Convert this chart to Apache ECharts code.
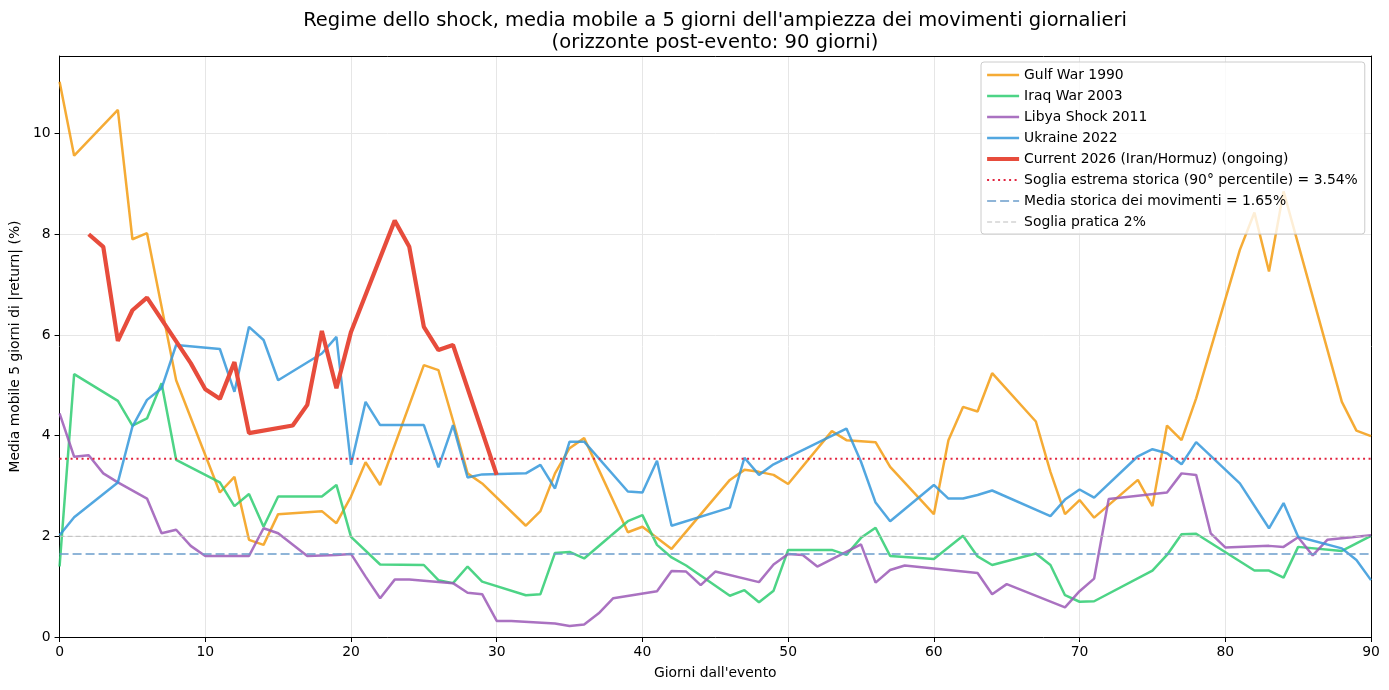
<!DOCTYPE html>
<html>
<head>
<meta charset="utf-8">
<script src="https://cdn.jsdelivr.net/npm/echarts@6/dist/echarts.min.js"></script>
<style>
html,body{margin:0;padding:0;background:#fff;}
#chart{width:1389px;height:690px;}
</style>
</head>
<body>
<div id="chart"></div>
<script>
const titleLines = ["Regime dello shock, media mobile a 5 giorni dell'ampiezza dei movimenti giornalieri", "(orizzonte post-evento: 90 giorni)"];
const xAxisTitle = "Giorni dall'evento";
const yAxisTitle = "Media mobile 5 giorni di |return| (%)";
const xTicks = [0, 10, 20, 30, 40, 50, 60, 70, 80, 90];
const yTicks = [0, 2, 4, 6, 8, 10];

const seriesNames = ["Gulf War 1990", "Iraq War 2003", "Libya Shock 2011", "Ukraine 2022", "Current 2026 (Iran/Hormuz) (ongoing)"];
const refNames = ["Soglia estrema storica (90° percentile) = 3.54%", "Media storica dei movimenti = 1.65%", "Soglia pratica 2%"];

const extremeThreshold = 3.54;
const historicalMean = 1.65;
const practicalThreshold = 2;

const gulfWar1990 = [[0,11.03],[1,9.56],[4,10.47],[5,7.90],[6,8.02],[8,5.10],[11,2.87],[12,3.18],[13,1.93],[14,1.83],[15,2.44],[18,2.50],[19,2.26],[20,2.79],[21,3.47],[22,3.02],[25,5.40],[26,5.30],[27,4.30],[28,3.25],[29,3.05],[32,2.21],[33,2.50],[34,3.25],[35,3.75],[36,3.95],[39,2.08],[40,2.19],[42,1.75],[46,3.12],[47,3.32],[48,3.28],[49,3.22],[50,3.04],[53,4.09],[54,3.91],[56,3.87],[57,3.38],[60,2.44],[61,3.91],[62,4.57],[63,4.48],[64,5.24],[67,4.28],[68,3.28],[69,2.44],[70,2.72],[71,2.37],[74,3.12],[75,2.60],[76,4.20],[77,3.91],[78,4.74],[81,7.69],[82,8.43],[83,7.26],[84,8.85],[88,4.67],[89,4.10],[90,3.99]];

const iraqWar2003 = [[0,1.40],[1,5.22],[4,4.69],[5,4.20],[6,4.34],[7,5.04],[8,3.52],[11,3.07],[12,2.60],[13,2.84],[14,2.19],[15,2.79],[18,2.79],[19,3.02],[20,1.99],[22,1.44],[25,1.43],[26,1.13],[27,1.07],[28,1.40],[29,1.10],[32,0.83],[33,0.85],[34,1.67],[35,1.69],[36,1.56],[39,2.30],[40,2.42],[41,1.83],[42,1.58],[43,1.42],[46,0.82],[47,0.93],[48,0.69],[49,0.92],[50,1.73],[53,1.73],[54,1.63],[55,1.97],[56,2.17],[57,1.61],[60,1.55],[62,2.01],[63,1.60],[64,1.43],[67,1.66],[68,1.43],[69,0.83],[70,0.70],[71,0.71],[75,1.32],[76,1.63],[77,2.04],[78,2.05],[82,1.32],[83,1.32],[84,1.18],[85,1.79],[88,1.71],[90,2.01]];

const libyaShock2011 = [[0,4.44],[1,3.58],[2,3.61],[3,3.25],[4,3.07],[6,2.75],[7,2.06],[8,2.13],[9,1.81],[10,1.61],[13,1.61],[14,2.16],[15,2.06],[17,1.61],[19,1.63],[20,1.65],[21,1.20],[22,0.77],[23,1.14],[24,1.14],[27,1.07],[28,0.88],[29,0.85],[30,0.32],[31,0.32],[34,0.27],[35,0.22],[36,0.25],[37,0.47],[38,0.77],[41,0.91],[42,1.31],[43,1.30],[44,1.03],[45,1.30],[48,1.09],[49,1.44],[50,1.65],[51,1.63],[52,1.40],[55,1.84],[56,1.08],[57,1.33],[58,1.42],[63,1.27],[64,0.85],[65,1.05],[69,0.59],[70,0.91],[71,1.16],[72,2.74],[76,2.87],[77,3.25],[78,3.22],[79,2.06],[80,1.78],[83,1.81],[84,1.79],[85,1.98],[86,1.62],[87,1.93],[90,2.02]];

const ukraine2022 = [[0,2.02],[1,2.38],[4,3.07],[5,4.18],[6,4.71],[7,4.94],[8,5.80],[11,5.72],[12,4.87],[13,6.16],[14,5.90],[15,5.10],[18,5.63],[19,5.96],[20,3.42],[21,4.67],[22,4.21],[25,4.21],[26,3.37],[27,4.21],[28,3.17],[29,3.23],[32,3.25],[33,3.42],[34,2.95],[35,3.88],[36,3.88],[39,2.89],[40,2.87],[41,3.50],[42,2.21],[46,2.57],[47,3.56],[48,3.22],[49,3.43],[54,4.14],[55,3.48],[56,2.67],[57,2.30],[60,3.02],[61,2.75],[62,2.75],[63,2.82],[64,2.91],[68,2.40],[69,2.73],[70,2.93],[71,2.77],[74,3.59],[75,3.73],[76,3.65],[77,3.43],[78,3.87],[81,3.05],[83,2.16],[84,2.66],[85,1.99],[88,1.76],[89,1.53],[90,1.13]];

const current2026 = [[2,8.00],[3,7.75],[4,5.88],[5,6.49],[6,6.74],[9,5.44],[10,4.92],[11,4.73],[12,5.46],[13,4.05],[16,4.20],[17,4.61],[18,6.08],[19,4.94],[20,6.06],[23,8.27],[24,7.75],[25,6.16],[26,5.70],[27,5.80],[30,3.22]];

const FONT = "DejaVu Sans";
const FS = 13.9;
const NOFILL = 'rgba(0,0,0,0)';
const chart = echarts.init(document.getElementById('chart'), null, {renderer: 'canvas'});

function hist(name, data, color) {
  return {
    name: name, type: 'line', data: data, symbol: 'none', z: 2,
    lineStyle: {color: color, width: 2.5, opacity: 0.85},
    itemStyle: {color: NOFILL, borderWidth: 0},
    emphasis: {disabled: true}
  };
}
function ref(name, val, color, width, dash) {
  return {
    name: name, type: 'line', data: [[xTicks[0], val], [xTicks[xTicks.length-1], val]], symbol: 'none', z: 3,
    lineStyle: {color: color, width: width, type: dash},
    itemStyle: {color: NOFILL, borderWidth: 0},
    emphasis: {disabled: true}
  };
}

const legendItems = seriesNames.map(function (n, i) {
  return {name: n, lineStyle: {width: i === 4 ? 4.2 : 2.5}};
}).concat([
  {name: refNames[0], lineStyle: {width: 2}},
  {name: refNames[1], lineStyle: {width: 1.6}},
  {name: refNames[2], lineStyle: {width: 1}}
]);

chart.setOption({
  animation: false,
  backgroundColor: '#fff',
  title: {
    text: titleLines.join('\n'),
    left: 710, top: 5, textAlign: 'center',
    textStyle: {fontFamily: FONT, fontSize: 19.5, fontWeight: 'normal', color: '#000', lineHeight: 22}
  },
  legend: {
    orient: 'vertical', left: 981, top: 62,
    padding: [6, 7, 5, 4],
    itemWidth: 32, itemHeight: 14, itemGap: 7,
    backgroundColor: 'rgba(255,255,255,0.8)', borderColor: '#cccccc', borderWidth: 1, borderRadius: 3,
    textStyle: {fontFamily: FONT, fontSize: FS, color: '#000'},
    itemStyle: {color: NOFILL, borderWidth: 0, opacity: 0},
    data: legendItems
  },
  grid: {left: 57, right: 18, top: 56, bottom: 53, show: false},
  xAxis: [{
    type: 'value', min: xTicks[0], max: xTicks[xTicks.length-1], interval: 10,
    name: xAxisTitle, nameLocation: 'middle', nameGap: 29,
    nameTextStyle: {fontFamily: FONT, fontSize: FS, color: '#000'},
    axisLine: {show: true, onZero: false, lineStyle: {color: '#000', width: 1}},
    axisTick: {show: true, length: 5, lineStyle: {color: '#000'}},
    axisLabel: {fontFamily: FONT, fontSize: FS, color: '#000', margin: 8},
    splitLine: {show: true, lineStyle: {color: '#e6e6e6', width: 1}}
  }, {
    type: 'value', position: 'top', min: xTicks[0], max: xTicks[xTicks.length-1], interval: 10,
    axisLine: {show: true, onZero: false, lineStyle: {color: '#000', width: 1}},
    axisTick: {show: false}, axisLabel: {show: false}, splitLine: {show: false}
  }],
  yAxis: [{
    type: 'value', min: 0, max: 11.54, interval: 2,
    name: yAxisTitle, nameLocation: 'middle', nameGap: 33, nameRotate: 90,
    nameTextStyle: {fontFamily: FONT, fontSize: FS, color: '#000'},
    axisLine: {show: true, onZero: false, lineStyle: {color: '#000', width: 1}},
    axisTick: {show: true, length: 5, lineStyle: {color: '#000'}, customValues: yTicks},
    axisLabel: {fontFamily: FONT, fontSize: FS, color: '#000', margin: 9, customValues: yTicks},
    splitLine: {show: true, lineStyle: {color: '#e6e6e6', width: 1}}
  }, {
    type: 'value', position: 'right', min: 0, max: 11.54, interval: 2,
    axisLine: {show: true, onZero: false, lineStyle: {color: '#000', width: 1}},
    axisTick: {show: false}, axisLabel: {show: false}, splitLine: {show: false}
  }],
  series: [
    hist(seriesNames[0], gulfWar1990, '#f39c12'),
    hist(seriesNames[1], iraqWar2003, '#2ecc71'),
    hist(seriesNames[2], libyaShock2011, '#9b59b6'),
    hist(seriesNames[3], ukraine2022, '#3498db'),
    {
      name: seriesNames[4], type: 'line', data: current2026, symbol: 'none', z: 4,
      lineStyle: {color: '#e74c3c', width: 4.2}, itemStyle: {color: NOFILL, borderWidth: 0},
      emphasis: {disabled: true}
    },
    ref(refNames[0], extremeThreshold, '#e2243f', 2, [2, 3.5]),
    ref(refNames[1], historicalMean, '#6b9dcb', 1.6, [9, 4]),
    ref(refNames[2], practicalThreshold, '#bdbdbd', 1, [5, 3])
  ]
});
</script>
</body>
</html>
